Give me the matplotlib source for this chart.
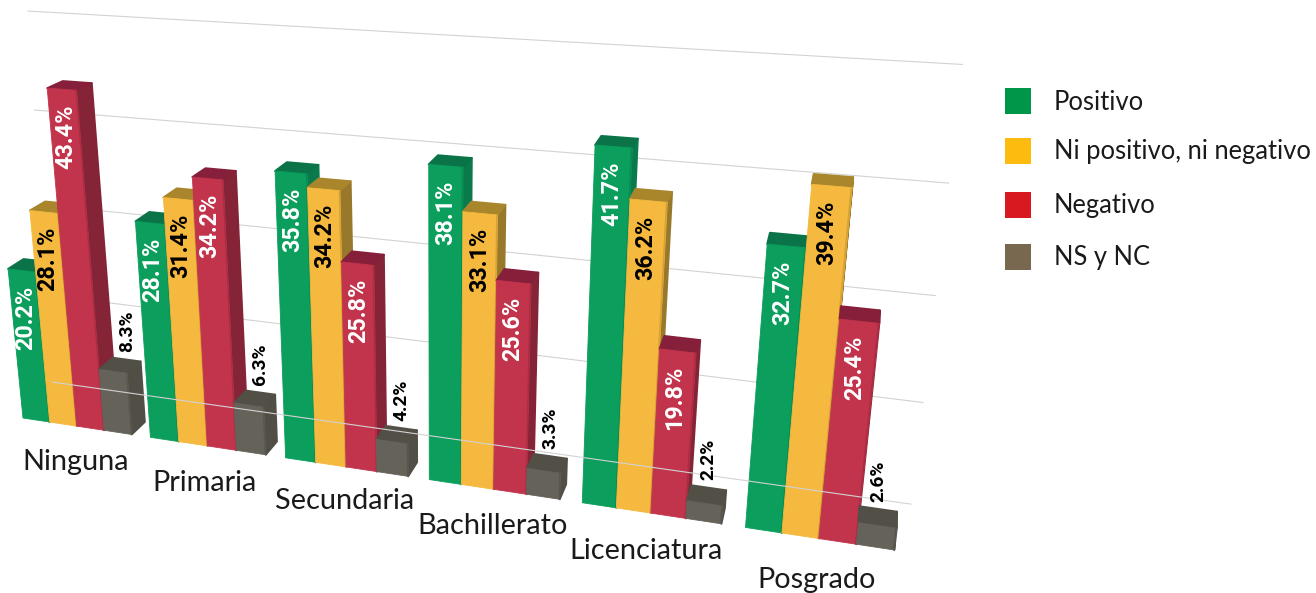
import numpy as np
import matplotlib
matplotlib.use("Agg")
from matplotlib import pyplot as plt
from matplotlib.patches import Polygon, Rectangle

# datos
categorias = ["Ninguna", "Primaria", "Secundaria", "Bachillerato", "Licenciatura", "Posgrado"]
series = ["Positivo", "Ni positivo, ni negativo", "Negativo", "NS y NC"]
positivo = [20.2, 28.1, 35.8, 38.1, 41.7, 32.7]
ni_ni = [28.1, 31.4, 34.2, 33.1, 36.2, 39.4]
negativo = [43.4, 34.2, 25.8, 25.6, 19.8, 25.4]
ns_nc = [8.3, 6.3, 4.2, 3.3, 2.2, 2.6]
rejilla = [0, 12.5, 25, 37.5, 50]

valores = [positivo, ni_ni, negativo, ns_nc]

# colores por serie: frente, tapa, lado, leyenda, texto
FRENTE = ["#0b9e5c", "#f4b93e", "#c2344c", "#65625a"]
TAPA = ["#0a7448", "#a9852c", "#86203a", "#524f47"]
LADO = ["#0a7a4c", "#98782a", "#842436", "#514e46"]
LEYENDA = ["#00964a", "#fdbb10", "#d81920", "#796850"]
TEXTO = ["white", "black", "white", "black"]

# perspectiva: tres puntos de fuga en pixeles
VP_H = (-4294, -236)
VP_V = (437, 4560)
VP_D = (900, -300)
ORIGEN = (23, 418)
ALFA = 0.00614
BETA = 0.00172
PROF_BARRA = 0.017
PROF_PARED = 0.05
PERIODO = 4.67

# ajuste de cada categoria bajo su grupo
dx_categoria = [-1, -3, -2, -1, -5, -2]
dy_categoria = [36, 37, 34, 37, 38, 41]


def proyecta(u, v, d=0.0):
    a = ALFA * u
    b = BETA * v
    w = 1 - a - b + d
    x = -a * VP_H[0] - b * VP_V[0] + d * VP_D[0] + ORIGEN[0]
    y = -a * VP_H[1] - b * VP_V[1] + d * VP_D[1] + ORIGEN[1]
    return x / w, y / w


def cara(ax, puntos, color, lw=0.6, alpha=None):
    ax.add_patch(Polygon([proyecta(*p) for p in puntos], closed=True, facecolor=color,
                         edgecolor=color if alpha is None else "none", linewidth=lw,
                         joinstyle="round", alpha=alpha, zorder=2))


def barra(ax, u0, u1, v, s):
    d = PROF_BARRA
    cara(ax, [(u1, 0, 0), (u1, 0, d), (u1, v, d), (u1, v, 0)], LADO[s], lw=1.4)
    cara(ax, [(u0, v, 0), (u1, v, 0), (u1, v, d), (u0, v, d)], TAPA[s], lw=1.4)
    cara(ax, [(u0, 0, 0), (u1, 0, 0), (u1, v, 0), (u0, v, 0)], FRENTE[s])
    # costura oscura a la derecha del frente
    cara(ax, [(u1 - 0.04, 0, 0), (u1, 0, 0), (u1, v, 0), (u1 - 0.04, v, 0)], "black", alpha=0.12)


fig = plt.figure(figsize=(13.16, 5.93), dpi=100)
ax = fig.add_axes([0, 0, 1, 1])
ax.set_xlim(0, 1316)
ax.set_ylim(593, 0)
ax.axis("off")

# rejilla de la pared del fondo
for nivel in rejilla:
    u_izq = -0.5 + nivel * 0.0074
    p0 = proyecta(u_izq, nivel, PROF_PARED)
    p1 = proyecta(27.8, nivel, PROF_PARED)
    # la linea de cero pasa por encima de las barras
    z = 3 if nivel == 0 else 1
    ax.plot([p0[0], p1[0]], [p0[1], p1[1]], color="#d2d2d2", lw=0.8, zorder=z)

for g, nombre in enumerate(categorias):
    inicio = g * PERIODO
    for s in range(4):
        v = valores[s][g]
        u0 = inicio + s
        barra(ax, u0, u0 + 1, v, s)
        if s < 3:
            x = proyecta(u0 + 0.5, v - 5.5)[0]
            y = proyecta(u0 + 0.5, v)[1] + 47
            ax.text(x, y, "%.1f%%" % v, rotation=90, ha="center", va="center", color=TEXTO[s],
                    fontsize=16.8, fontweight="bold", family="Roboto", zorder=4)
        else:
            x, y = proyecta(u0 + 0.5, v, PROF_BARRA)
            ax.text(x, y - 28, "%.1f%%" % v, rotation=90, ha="center", va="center", color="black",
                    fontsize=13.8, fontweight="bold", family="Roboto", zorder=4)
    x, y = proyecta(inicio + 2, 0)
    ax.text(x + dx_categoria[g], y + dy_categoria[g], nombre, ha="center", va="center", color="#1a1a1a",
            fontsize=20.8, family="Lato", zorder=4)

# leyenda
y_leyenda = [101, 151, 205, 257]
for s, nombre in enumerate(series):
    ax.add_patch(Rectangle((1005, y_leyenda[s] - 13), 26, 26, facecolor=LEYENDA[s], edgecolor="none"))
    ax.text(1054, y_leyenda[s] + 1, nombre, ha="left", va="center", color="#1a1a1a",
            fontsize=18.4, family="Lato")

fig.savefig("out.png", dpi=100)
